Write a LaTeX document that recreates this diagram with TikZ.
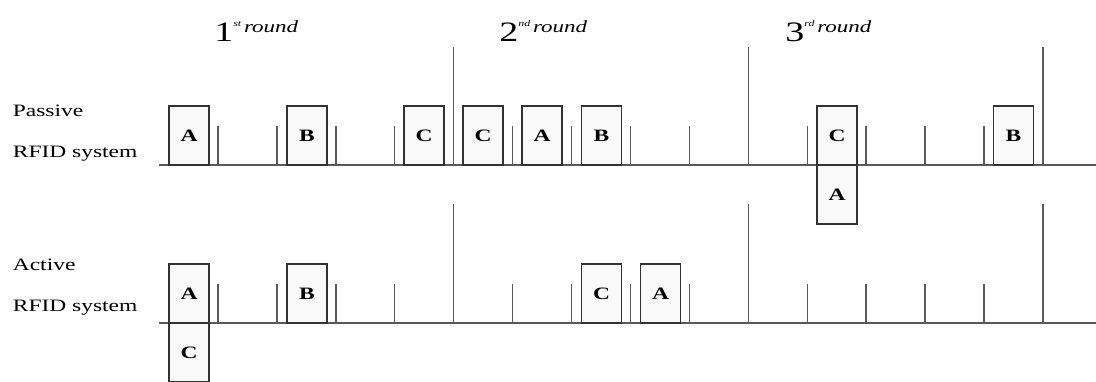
\documentclass[tikz,border=0pt]{standalone}
\usepackage{fontspec}
\setmainfont{Liberation Serif}[FakeStretch=1.35]

\newcommand{\roundlbl}[2]{{\fontsize{16pt}{16pt}\selectfont #1}\raisebox{0.18cm}{\raisebox{0.12cm}{\fontsize{5pt}{5pt}\selectfont\itshape #2}\,\itshape round}}

\begin{document}
\begin{tikzpicture}[
        frame/.style={draw=black!80, line width=0.9pt, fill=gray!5, minimum width=0.8cm, minimum height=1.18cm, inner sep=0pt, font=\fontsize{9.9pt}{11pt}\selectfont\bfseries},
        rowlabel/.style={anchor=base west, inner sep=0pt, font=\fontsize{9.9pt}{11pt}\selectfont},
        roundlabel/.style={anchor=base west, inner sep=0pt, font=\fontsize{9.7pt}{11pt}\selectfont},
        timeline/.style={line width=0.9pt, black!65},
        tick/.style={line width=1.1pt, black!65}
    ]
        \path[use as bounding box] (0, 0) rectangle (21.92, 7.62);

        % labels
        \node[rowlabel] (passive) at (0.25, 5.28) {Passive};
        \node[rowlabel] (prfid) at (0.25, 4.46) {RFID system};
        \node[rowlabel] (active) at (0.25, 2.22) {Active};
        \node[rowlabel] (arfid) at (0.25, 1.40) {RFID system};

        \node[roundlabel] (r1) at (4.28, 6.78) {\roundlbl{1}{st}};
        \node[roundlabel] (r2) at (9.98, 6.78) {\roundlbl{2}{nd}};
        \node[roundlabel] (r3) at (15.70, 6.78) {\roundlbl{3}{rd}};

        % passive
        \draw[timeline] (3.18, 4.32) -- (21.92, 4.32);
        \draw[tick] (4.36, 4.32) -- +(0, 0.78) (5.54, 4.32) -- +(0, 0.78)
                    (6.72, 4.32) -- +(0, 0.78) (7.89, 4.32) -- +(0, 0.78)
                    (10.25, 4.32) -- +(0, 0.78) (11.43, 4.32) -- +(0, 0.78)
                    (12.61, 4.32) -- +(0, 0.78) (13.79, 4.32) -- +(0, 0.78)
                    (16.15, 4.32) -- +(0, 0.78) (17.32, 4.32) -- +(0, 0.78)
                    (18.50, 4.32) -- +(0, 0.78) (19.68, 4.32) -- +(0, 0.78);
        \draw[tick] (9.07, 4.32) -- +(0, 2.36) (14.97, 4.32) -- +(0, 2.36)
                    (20.86, 4.32) -- +(0, 2.36);

        \node[frame] (p0A) at (3.78, 4.91) {A};
        \node[frame] (p2B) at (6.14, 4.91) {B};
        \node[frame] (p4C) at (8.48, 4.91) {C};
        \node[frame] (p5C) at (9.66, 4.91) {C};
        \node[frame] (p6A) at (10.84, 4.91) {A};
        \node[frame] (p7B) at (12.03, 4.91) {B};
        \node[frame] (p11C) at (16.74, 4.91) {C};
        \node[frame] (p11A) at (16.74, 3.73) {A};
        \node[frame] (p14B) at (20.27, 4.91) {B};

        % active
        \draw[timeline] (3.18, 1.16) -- (21.92, 1.16);
        \draw[tick] (4.36, 1.16) -- +(0, 0.78) (5.54, 1.16) -- +(0, 0.78)
                    (6.72, 1.16) -- +(0, 0.78) (7.89, 1.16) -- +(0, 0.78)
                    (10.25, 1.16) -- +(0, 0.78) (11.43, 1.16) -- +(0, 0.78)
                    (12.61, 1.16) -- +(0, 0.78) (13.79, 1.16) -- +(0, 0.78)
                    (16.15, 1.16) -- +(0, 0.78) (17.32, 1.16) -- +(0, 0.78)
                    (18.50, 1.16) -- +(0, 0.78) (19.68, 1.16) -- +(0, 0.78);
        \draw[tick] (9.07, 1.16) -- +(0, 2.38) (14.97, 1.16) -- +(0, 2.38)
                    (20.86, 1.16) -- +(0, 2.38);

        \node[frame] (a0A) at (3.78, 1.75) {A};
        \node[frame] (a0C) at (3.78, 0.57) {C};
        \node[frame] (a2B) at (6.14, 1.75) {B};
        \node[frame] (a7C) at (12.03, 1.75) {C};
        \node[frame] (a8A) at (13.21, 1.75) {A};
    \end{tikzpicture}
\end{document}
